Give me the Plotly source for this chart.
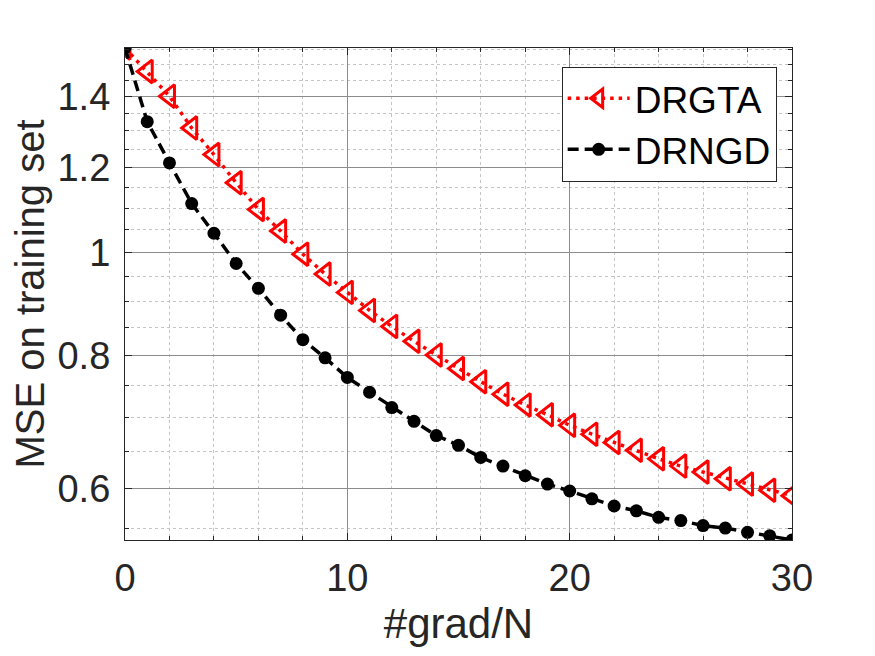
import plotly.graph_objects as go

grad_n = list(range(31))
drgta = [1.555, 1.478, 1.401, 1.308, 1.235, 1.162, 1.097, 1.047, 0.996, 0.954,
         0.917, 0.882, 0.852, 0.825, 0.801, 0.778, 0.756, 0.736, 0.719, 0.704,
         0.688, 0.675, 0.663, 0.652, 0.640, 0.630, 0.622, 0.613, 0.606, 0.598, 0.591]
drngd = [1.555, 1.326, 1.213, 1.111, 1.042, 0.976, 0.925, 0.873, 0.828, 0.796,
         0.763, 0.739, 0.715, 0.694, 0.673, 0.659, 0.642, 0.630, 0.617, 0.606,
         0.597, 0.587, 0.578, 0.572, 0.564, 0.560, 0.554, 0.551, 0.546, 0.542, 0.537]

y_major = [0.6, 0.8, 1.0, 1.2, 1.4]
y_major_text = ["0.6", "0.8", "1", "1.2", "1.4"]
y_minor = [0.55, 0.65, 0.7, 0.75, 0.85, 0.9, 0.95, 1.05, 1.1, 1.15,
           1.25, 1.3, 1.35, 1.45, 1.5, 1.55]
x_major = [0, 10, 20, 30]

FONT = "Liberation Sans, Arial, Helvetica, sans-serif"
TXT = "#262626"

fig = go.Figure()
fig.add_trace(go.Scatter(
    x=grad_n, y=drgta, name="DRGTA", mode="lines+markers",
    line=dict(color="#ff0000", width=3.5, dash="3.5px,5px"),
    marker=dict(symbol="triangle-left-open", size=20, color="#ff0000",
                line=dict(color="#ff0000", width=3)),
))
fig.add_trace(go.Scatter(
    x=grad_n, y=drngd, name="DRNGD", mode="lines+markers",
    line=dict(color="#000000", width=3.5, dash="11px,6px"),
    marker=dict(symbol="circle", size=13, color="#000000"),
))

axis_common = dict(
    showline=True, linecolor=TXT, linewidth=1.2, mirror="allticks",
    ticks="inside", ticklen=7, tickcolor=TXT, tickwidth=1,
    showgrid=True, gridcolor="#8c8c8c", gridwidth=1,
    zeroline=False,
    tickfont=dict(family=FONT, size=38, color=TXT),
)

fig.update_layout(
    width=867, height=648,
    paper_bgcolor="white", plot_bgcolor="white",
    margin=dict(l=117, r=83, t=40, b=116, autoexpand=False),
    font=dict(family=FONT, color=TXT),
    xaxis=dict(
        **axis_common,
        range=[0, 30], tickmode="array", tickvals=x_major,
        ticklabelstandoff=4,
        minor=dict(dtick=2, tick0=0, ticks="inside", ticklen=4, tickcolor=TXT,
                   showgrid=True, gridcolor="#c4c4c4", griddash="dot", gridwidth=1),
        title=dict(text="#grad/N", font=dict(family=FONT, size=42, color=TXT), standoff=10),
    ),
    yaxis=dict(
        **axis_common,
        type="log", range=[-0.2700, 0.1917],
        tickmode="array", tickvals=y_major, ticktext=y_major_text,
        ticklabelstandoff=6,
        minor=dict(tickmode="array", tickvals=y_minor, ticks="inside", ticklen=4,
                   tickcolor=TXT, showgrid=True, gridcolor="#c4c4c4",
                   griddash="dot", gridwidth=1),
        title=dict(text="MSE on training set", font=dict(family=FONT, size=40, color=TXT),
                   standoff=0),
    ),
    legend=dict(
        x=0.977, y=0.962, xanchor="right", yanchor="top",
        bgcolor="white", bordercolor=TXT, borderwidth=1,
        font=dict(family=FONT, size=37, color="#000000"),
        itemwidth=62, tracegroupgap=0,
    ),
    showlegend=True,
)

fig.write_html("out.html")
